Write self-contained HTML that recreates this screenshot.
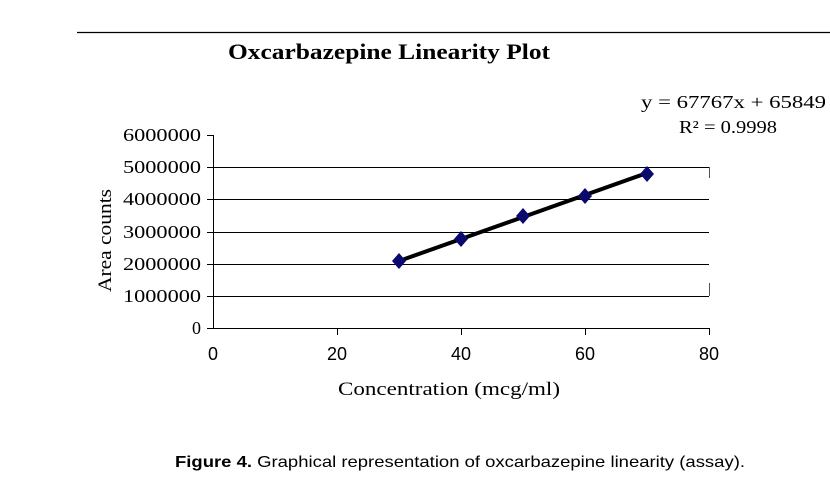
<!DOCTYPE html>
<html><head><style>body{margin:0;background:#fff}</style></head><body>
<svg width="830" height="499" xmlns="http://www.w3.org/2000/svg" style="display:block">
<rect width="830" height="499" fill="#fff"/>
<line x1="77" y1="32.5" x2="830" y2="32.5" stroke="#000" stroke-width="1.3"/>
<text x="228" y="59" font-family="Liberation Serif, serif" font-weight="bold" font-size="22" textLength="322" lengthAdjust="spacingAndGlyphs">Oxcarbazepine Linearity Plot</text>
<text x="641" y="108" font-family="Liberation Serif, serif" font-size="18" textLength="185" lengthAdjust="spacingAndGlyphs">y = 67767x + 65849</text>
<text x="679" y="133" font-family="Liberation Serif, serif" font-size="18" textLength="98" lengthAdjust="spacingAndGlyphs">R² = 0.9998</text>
<g stroke="#000" stroke-width="1">
<line x1="213" y1="167.5" x2="709" y2="167.5"/>
<line x1="213" y1="199.5" x2="709" y2="199.5"/>
<line x1="213" y1="232.5" x2="709" y2="232.5"/>
<line x1="213" y1="264.5" x2="709" y2="264.5"/>
<line x1="213" y1="296.5" x2="709" y2="296.5"/>
<line x1="213" y1="328.5" x2="709" y2="328.5"/>
<line x1="213.5" y1="135" x2="213.5" y2="328"/>
<line x1="709.5" y1="167" x2="709.5" y2="178" stroke="#555"/>
<line x1="709.5" y1="283" x2="709.5" y2="296" stroke="#555"/>
<line x1="207" y1="135.5" x2="213" y2="135.5"/>
<line x1="207" y1="167.5" x2="213" y2="167.5"/>
<line x1="207" y1="199.5" x2="213" y2="199.5"/>
<line x1="207" y1="232.5" x2="213" y2="232.5"/>
<line x1="207" y1="264.5" x2="213" y2="264.5"/>
<line x1="207" y1="296.5" x2="213" y2="296.5"/>
<line x1="207" y1="328.5" x2="213" y2="328.5"/>
<line x1="337.5" y1="328" x2="337.5" y2="335"/>
<line x1="461.5" y1="328" x2="461.5" y2="335"/>
<line x1="585.5" y1="328" x2="585.5" y2="335"/>
<line x1="709.5" y1="328" x2="709.5" y2="335"/>
</g>
<g font-family="Liberation Serif, serif" font-size="18">
<text x="123" y="141" textLength="78" lengthAdjust="spacingAndGlyphs">6000000</text>
<text x="123" y="173" textLength="78" lengthAdjust="spacingAndGlyphs">5000000</text>
<text x="123" y="205" textLength="78" lengthAdjust="spacingAndGlyphs">4000000</text>
<text x="123" y="238" textLength="78" lengthAdjust="spacingAndGlyphs">3000000</text>
<text x="123" y="270" textLength="78" lengthAdjust="spacingAndGlyphs">2000000</text>
<text x="123" y="302" textLength="78" lengthAdjust="spacingAndGlyphs">1000000</text>
<text x="201" y="334" text-anchor="end">0</text>
</g>
<g font-family="Liberation Sans, sans-serif" font-size="18" text-anchor="middle">
<text x="213" y="360">0</text>
<text x="337" y="360">20</text>
<text x="461" y="360">40</text>
<text x="585" y="360">60</text>
<text x="709" y="360">80</text>
</g>
<text transform="translate(111,292) rotate(-90)" font-family="Liberation Serif, serif" font-size="19" textLength="103" lengthAdjust="spacingAndGlyphs">Area counts</text>
<text x="338" y="395" font-family="Liberation Serif, serif" font-size="19" textLength="222" lengthAdjust="spacingAndGlyphs">Concentration (mcg/ml)</text>
<line x1="399" y1="261" x2="647" y2="173" stroke="#000" stroke-width="4"/>
<g fill="#0a0a6e">
<polygon points="399,253 406,261 399,269 392,261"/>
<polygon points="461,231 468,239 461,247 454,239"/>
<polygon points="523,208 530,216 523,224 516,216"/>
<polygon points="585,188 592,196 585,204 578,196"/>
<polygon points="647,166 654,174 647,182 640,174"/>
</g>
<text x="175" y="467" font-family="Liberation Sans, sans-serif" font-size="16" textLength="570" lengthAdjust="spacingAndGlyphs"><tspan font-weight="bold">Figure 4.</tspan> Graphical representation of oxcarbazepine linearity (assay).</text>
</svg>
</body></html>
